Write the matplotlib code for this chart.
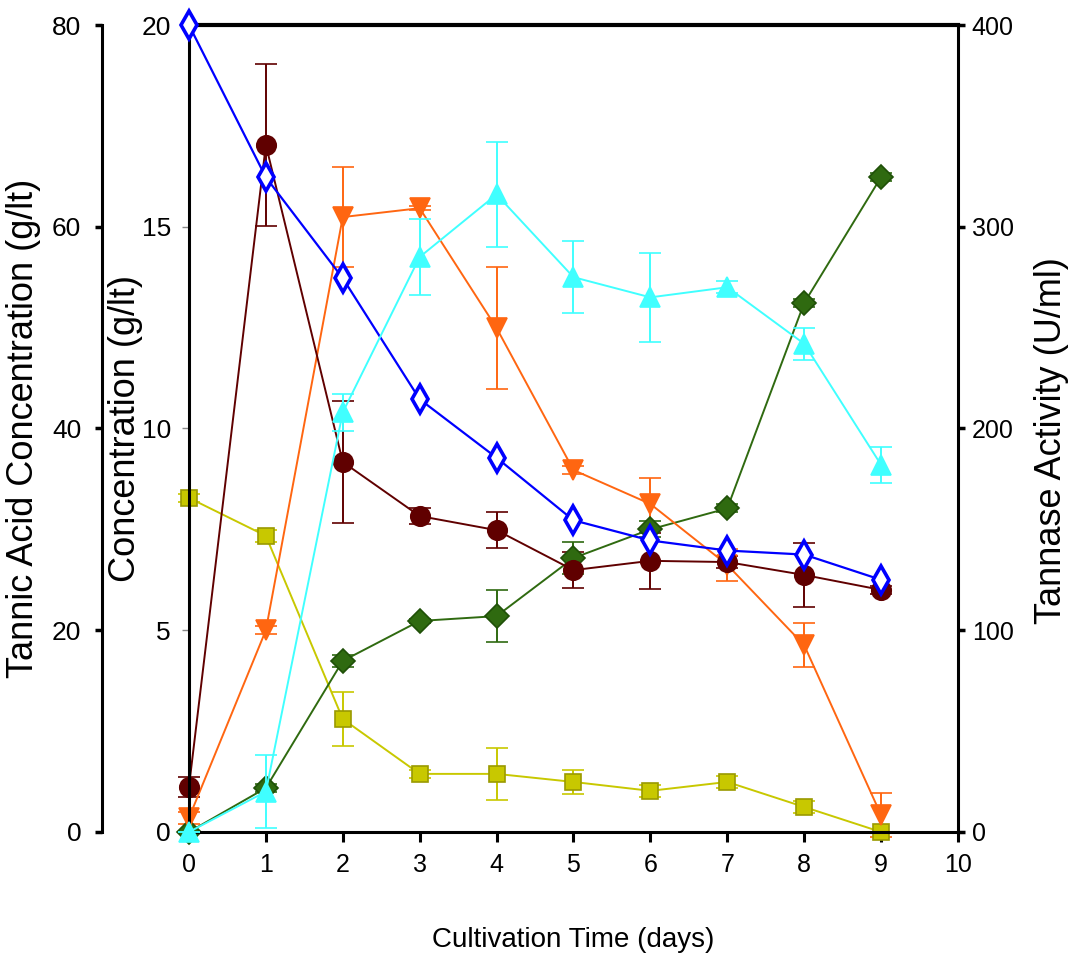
import matplotlib
matplotlib.use('Agg')
import matplotlib.pyplot as plt

plt.rcParams.update({
    'font.family': ['Liberation Sans', 'DejaVu Sans'],
    'axes.linewidth': 2.2,
})

days = [0, 1, 2, 3, 4, 5, 6, 7, 8, 9]

# tannic acid, g/lt (outer left axis)
tannic = [80, 64.9, 54.9, 42.9, 37.1, 30.9, 28.9, 27.9, 27.5, 25.0]

# concentrations, g/lt (inner left axis)
red = [1.12, 17.03, 9.17, 7.83, 7.48, 6.49, 6.72, 6.69, 6.37, 6.0]
red_err = [0.25, 2.0, 1.5, 0.2, 0.45, 0.45, 0.7, 0.15, 0.8, 0.1]
orange = [0.35, 5.0, 15.24, 15.46, 12.49, 8.97, 8.13, 6.62, 4.63, 0.42]
orange_err = [0.15, 0.1, 1.25, 0.05, 1.5, 0.1, 0.65, 0.4, 0.55, 0.55]
green = [0, 1.09, 4.24, 5.23, 5.35, 6.79, 7.5, 8.02, 13.11, 16.23]
green_err = [0, 0.1, 0.15, 0.05, 0.65, 0.4, 0.2, 0.1, 0.1, 0.1]
yellow = [8.28, 7.34, 2.80, 1.44, 1.44, 1.24, 1.02, 1.24, 0.62, 0]
yellow_err = [0.1, 0.15, 0.66, 0.1, 0.65, 0.3, 0.15, 0.15, 0.15, 0]

# tannase activity, U/ml (right axis)
tannase = [0, 20, 208, 285, 316, 275, 265, 270, 242, 182]
tannase_err = [0, 18, 9, 19, 26, 18, 22, 3, 8, 9]

fig = plt.figure(figsize=(10.7, 9.69), dpi=100)
ax = fig.add_axes([0.1766, 0.1414, 0.7187, 0.8328])
ax_t = ax.twinx()
ax_r = ax.twinx()

common = dict(lw=1.4, capsize=8, elinewidth=1.4, capthick=1.4, clip_on=False)

def series(a, y, err, color, marker, ms, mec=None):
    eb = a.errorbar(days, y, yerr=err, color=color, marker=marker, ms=ms,
                    mfc=color, mec=mec or color, mew=1.2, **common)
    for part in eb.lines[1] + eb.lines[2]:
        part.set_clip_on(False)

series(ax, yellow, yellow_err, '#c8c800', 's', 12, '#9a9a00')
series(ax, green, green_err, '#2f6a10', 'D', 12, '#1f5008')
series(ax, orange, orange_err, '#ff6611', 'v', 14)
series(ax, red, red_err, '#600000', 'o', 14)

ax_t.plot(days, tannic, color='#0000ff', marker='d', ms=14, mfc='white',
          mec='#0000ff', mew=2.6, lw=1.6, clip_on=False)

series(ax_r, tannase, tannase_err, '#40ffff', '^', 14)

ax.set_xlim(0, 10)
ax.set_ylim(0, 20)
ax_t.set_ylim(0, 80)
ax_r.set_ylim(0, 400)

ax.set_xticks(range(0, 11))
ax.set_yticks([0, 5, 10, 15, 20])
ax_t.set_yticks([0, 20, 40, 60, 80])
ax_r.set_yticks([0, 100, 200, 300, 400])

ax.spines['right'].set_visible(False)
for s in ['top', 'right', 'bottom']:
    ax_t.spines[s].set_visible(False)
for s in ['top', 'left', 'bottom']:
    ax_r.spines[s].set_visible(False)
ax.spines['top'].set_linewidth(3)

ax_t.spines['left'].set_position(('outward', 62.6))
ax_t.spines['left'].set_visible(True)
ax_t.yaxis.set_ticks_position('left')
ax_t.yaxis.set_label_position('left')

ax.tick_params(axis='x', direction='out', length=7, width=2.2, labelsize=18, pad=8)
ax.tick_params(axis='y', direction='out', length=5, width=1, color='#888888',
               labelsize=19, pad=8)
ax_t.tick_params(axis='y', direction='out', length=5, width=2.5, labelsize=19, pad=10)
ax_r.tick_params(axis='y', direction='out', length=5, width=2.5, labelsize=18, pad=5)

ax.set_xlabel('Cultivation Time (days)', fontsize=20, labelpad=36)
ax.set_ylabel('Concentration (g/lt)', fontsize=26)
ax_t.set_ylabel('Tannic Acid Concentration (g/lt)', fontsize=26)
ax_r.set_ylabel('Tannase Activity (U/ml)', fontsize=26)
ax.yaxis.set_label_coords(-0.060, 0.50)
ax_t.yaxis.set_label_coords(-0.192, 0.50)
ax_r.yaxis.set_label_coords(1.099, 0.485)

fig.savefig('out.png', dpi=100)
